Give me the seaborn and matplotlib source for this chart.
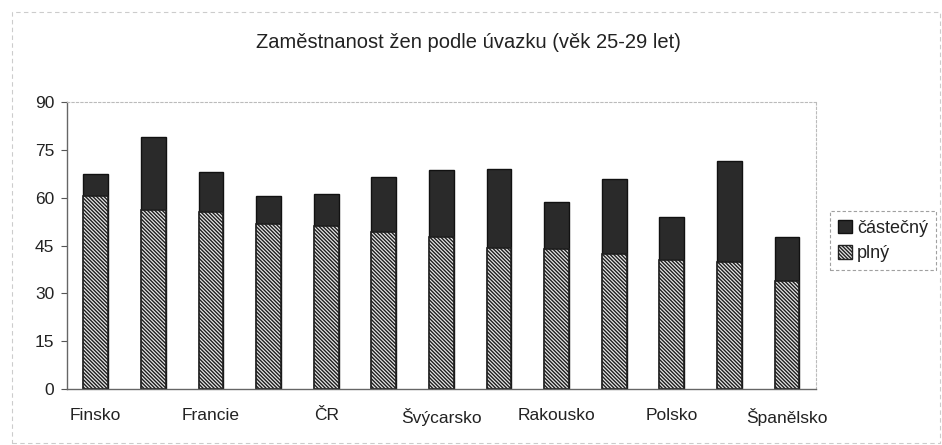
import matplotlib
matplotlib.use("Agg")
import matplotlib.pyplot as plt
from matplotlib.patches import Rectangle, Patch
import seaborn as sns
import pandas as pd

# ---- data ----
countries = ["Finsko", "Nizozemsko", "Francie", "Portugalsko", "ČR", "Velká Británie",
             "Švýcarsko", "Německo", "Rakousko", "Belgie", "Polsko", "Norsko", "Španělsko"]
tick_labels = ["Finsko", "", "Francie", "", "ČR", "", "Švýcarsko", "", "Rakousko", "",
               "Polsko", "", "Španělsko"]
plny = [60.6, 56.1, 55.4, 51.7, 51.2, 49.1, 47.6, 44.1, 43.8, 42.3, 40.4, 39.7, 34.0]
castecny = [6.8, 23.0, 12.6, 8.8, 9.9, 17.3, 21.1, 25.0, 14.7, 23.5, 13.4, 31.7, 13.6]
y_ticks = [0, 15, 30, 45, 60, 75, 90]
title = "Zaměstnanost žen podle úvazku (věk 25-29 let)"
legend_labels = ["částečný", "plný"]

df = pd.DataFrame({"zeme": countries, "plny": plny, "castecny": castecny})
df["celkem"] = df["plny"] + df["castecny"]

sns.set_style("white")
plt.rcParams["font.family"] = ["Liberation Sans", "DejaVu Sans"]
plt.rcParams["hatch.linewidth"] = 1.0

HATCH = "\\" * 9

fig = plt.figure(figsize=(9.42, 4.45), dpi=100)
ax = fig.add_axes([0.0711, 0.1258, 0.795, 0.645])

sns.barplot(data=df, x="zeme", y="celkem", color="#2a2a2a", width=0.43,
            edgecolor="#111111", linewidth=1.0, saturation=1, ax=ax)
n_top = len(ax.patches)
sns.barplot(data=df, x="zeme", y="plny", color="#f2f2f2", width=0.43,
            edgecolor="#1e1e1e", linewidth=1.2, saturation=1, ax=ax)
for p in ax.patches[n_top:]:
    p.set_hatch(HATCH)
    p.set_facecolor("#e6e6e6")

ax.set_xlim(-0.5, len(countries) - 0.5)
ax.set_ylim(0, 90)
ax.set_yticks(y_ticks)
ax.set_xticks(range(len(countries)))
ax.set_xticklabels(tick_labels)
ax.set_xlabel("")
ax.set_ylabel("")
ax.tick_params(axis="y", length=4, width=0.8, color="#555555", labelsize=12.5,
               labelcolor="#222222", direction="out", left=True, pad=5)
ax.tick_params(axis="x", length=0, labelsize=12.5, labelcolor="#222222", pad=14)

for s in ["left", "bottom"]:
    ax.spines[s].set_color("#666666")
    ax.spines[s].set_linewidth(1.0)
for s in ["top", "right"]:
    ax.spines[s].set_color("#bbbbbb")
    ax.spines[s].set_linewidth(0.8)
    ax.spines[s].set_linestyle((0, (2, 2)))

fig.text(0.497, 0.905, title, ha="center", va="center", fontsize=14.5, color="#222222")

handles = [Patch(facecolor="#2a2a2a", edgecolor="#111111"),
           Patch(facecolor="#e6e6e6", edgecolor="#222222", hatch=HATCH)]
leg = fig.legend(handles, legend_labels, loc="upper left",
                 bbox_to_anchor=(0.881, 0.525), fontsize=13, frameon=True,
                 fancybox=False, handlelength=0.8, handleheight=0.8,
                 handletextpad=0.25, borderpad=0.45, labelspacing=0.45,
                 borderaxespad=0, labelcolor="#222222")
leg.get_frame().set_edgecolor("#888888")
leg.get_frame().set_linewidth(0.8)
leg.get_frame().set_linestyle((0, (3, 2)))

# faint scanned border around the chart area
fig.patches.append(Rectangle((0.013, 0.004), 0.985, 0.97, transform=fig.transFigure,
                             fill=False, edgecolor="#cccccc", linewidth=0.8,
                             linestyle=(0, (4, 3))))

fig.savefig("out.png", dpi=100)
